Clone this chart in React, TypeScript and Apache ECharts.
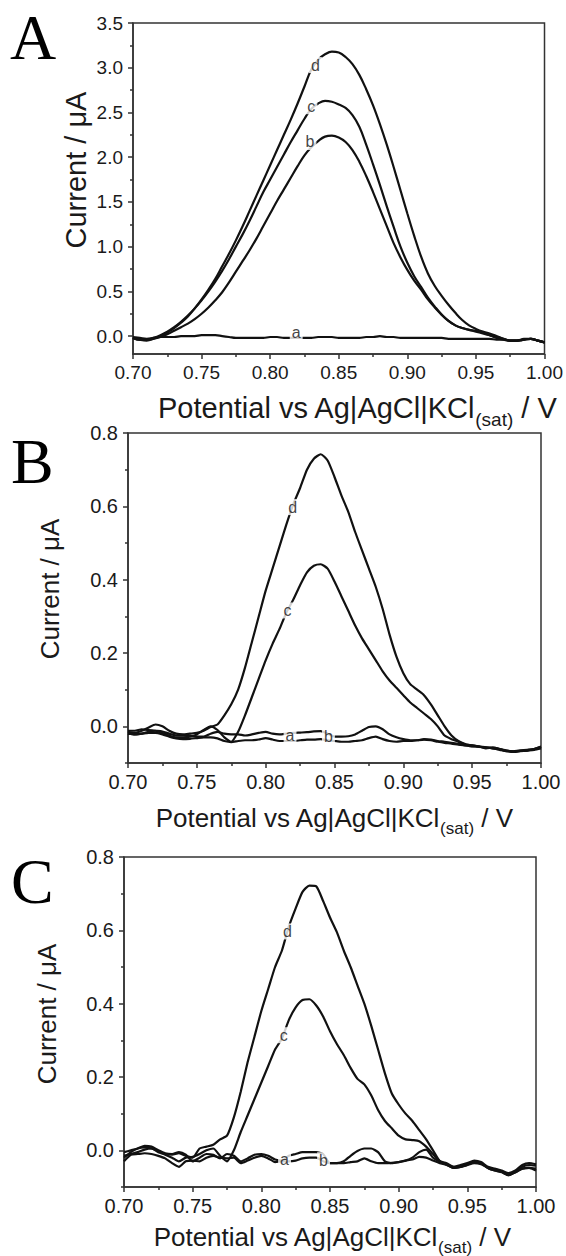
import { useEffect, useRef } from 'react';
import * as echarts from 'echarts';

// Potential grid (V vs Ag|AgCl|KCl(sat)) shared by every trace
const POTENTIAL = [
  0.700, 0.705, 0.710, 0.715, 0.720, 0.725, 0.730, 0.735, 0.740, 0.745,
  0.750, 0.755, 0.760, 0.765, 0.770, 0.775, 0.780, 0.785, 0.790, 0.795,
  0.800, 0.805, 0.810, 0.815, 0.820, 0.825, 0.830, 0.835, 0.840, 0.845,
  0.850, 0.855, 0.860, 0.865, 0.870, 0.875, 0.880, 0.885, 0.890, 0.895,
  0.900, 0.905, 0.910, 0.915, 0.920, 0.925, 0.930, 0.935, 0.940, 0.945,
  0.950, 0.955, 0.960, 0.965, 0.970, 0.975, 0.980, 0.985, 0.990, 0.995, 1.000,
];

// Panel A currents (µA)
const A_CURVE_A = [
  -0.01, -0.02, -0.03, -0.02, -0.01, -0.01, -0.01, 0.00, 0.00, 0.00,
  0.01, 0.01, 0.01, 0.00, -0.01, -0.02, -0.02, -0.02, -0.02, -0.02,
  -0.01, -0.01, -0.02, -0.02, -0.02, -0.02, -0.02, -0.01, -0.01, -0.01,
  -0.02, -0.02, -0.02, -0.02, -0.01, -0.01, 0.00, -0.01, -0.01, -0.02,
  -0.02, -0.02, -0.02, -0.02, -0.02, -0.02, -0.03, -0.03, -0.03, -0.03,
  -0.03, -0.03, -0.03, -0.04, -0.04, -0.05, -0.05, -0.04, -0.03, -0.05, -0.07,
];
const A_CURVE_B = [
  -0.02, -0.04, -0.04, -0.03, -0.01, 0.02, 0.06, 0.10, 0.14, 0.19,
  0.25, 0.32, 0.40, 0.49, 0.60, 0.72, 0.84, 0.96, 1.09, 1.23,
  1.37, 1.51, 1.64, 1.77, 1.90, 2.02, 2.11, 2.18, 2.23, 2.24,
  2.22, 2.17, 2.08, 1.95, 1.79, 1.61, 1.42, 1.23, 1.04, 0.88,
  0.74, 0.62, 0.52, 0.41, 0.32, 0.24, 0.17, 0.12, 0.09, 0.07,
  0.05, 0.03, 0.01, -0.01, -0.03, -0.05, -0.05, -0.04, -0.03, -0.05, -0.07,
];
const A_CURVE_C = [
  -0.02, -0.04, -0.04, -0.02, 0.01, 0.05, 0.10, 0.16, 0.23, 0.31,
  0.40, 0.50, 0.61, 0.73, 0.86, 1.00, 1.14, 1.29, 1.45, 1.61,
  1.75, 1.89, 2.03, 2.17, 2.30, 2.43, 2.54, 2.60, 2.63, 2.62,
  2.59, 2.55, 2.47, 2.34, 2.14, 1.92, 1.69, 1.45, 1.22, 1.00,
  0.82, 0.67, 0.55, 0.43, 0.33, 0.24, 0.17, 0.12, 0.09, 0.07,
  0.06, 0.04, 0.01, -0.02, -0.04, -0.05, -0.05, -0.04, -0.03, -0.05, -0.07,
];
const A_CURVE_D = [
  -0.02, -0.04, -0.05, -0.03, 0.00, 0.04, 0.09, 0.15, 0.22, 0.31,
  0.41, 0.52, 0.64, 0.78, 0.92, 1.07, 1.23, 1.40, 1.57, 1.74,
  1.91, 2.08, 2.25, 2.42, 2.60, 2.79, 2.98, 3.09, 3.15, 3.18,
  3.17, 3.12, 3.04, 2.92, 2.76, 2.58, 2.37, 2.14, 1.89, 1.63,
  1.37, 1.12, 0.89, 0.70, 0.56, 0.45, 0.35, 0.26, 0.18, 0.12,
  0.08, 0.05, 0.03, 0.00, -0.03, -0.05, -0.05, -0.03, -0.03, -0.05, -0.07,
];

// Panel B currents (µA)
const B_CURVE_A = [
  -0.020, -0.022, -0.020, -0.018, -0.018, -0.022, -0.028, -0.033, -0.035, -0.034,
  -0.032, -0.030, -0.030, -0.033, -0.040, -0.043, -0.040, -0.038, -0.038, -0.036,
  -0.032, -0.036, -0.040, -0.040, -0.040, -0.038, -0.036, -0.036, -0.035, -0.038,
  -0.040, -0.042, -0.042, -0.040, -0.038, -0.032, -0.028, -0.035, -0.040, -0.042,
  -0.040, -0.040, -0.038, -0.036, -0.038, -0.042, -0.045, -0.047, -0.050, -0.052,
  -0.054, -0.056, -0.058, -0.060, -0.064, -0.068, -0.070, -0.068, -0.066, -0.064, -0.060,
];
const B_CURVE_B = [
  -0.012, -0.012, -0.008, -0.010, -0.012, -0.014, -0.020, -0.025, -0.025, -0.025,
  -0.028, -0.028, -0.020, -0.015, -0.020, -0.022, -0.022, -0.025, -0.022, -0.018,
  -0.015, -0.020, -0.022, -0.020, -0.018, -0.017, -0.016, -0.014, -0.013, -0.020,
  -0.028, -0.028, -0.027, -0.022, -0.012, -0.002, 0.000, -0.008, -0.022, -0.030,
  -0.035, -0.038, -0.038, -0.035, -0.036, -0.040, -0.042, -0.045, -0.048, -0.052,
  -0.052, -0.055, -0.057, -0.060, -0.063, -0.066, -0.069, -0.067, -0.065, -0.062, -0.056,
];
const B_CURVE_C = [
  -0.020, -0.022, -0.020, -0.015, -0.012, -0.018, -0.025, -0.030, -0.030, -0.028,
  -0.022, -0.010, 0.000, -0.010, -0.030, -0.042, -0.015, 0.030, 0.080, 0.130,
  0.180, 0.225, 0.265, 0.310, 0.345, 0.385, 0.420, 0.438, 0.442, 0.430,
  0.395, 0.355, 0.315, 0.275, 0.240, 0.210, 0.180, 0.150, 0.125, 0.105,
  0.085, 0.065, 0.050, 0.035, 0.020, 0.000, -0.025, -0.035, -0.042, -0.050,
  -0.055, -0.055, -0.060, -0.058, -0.062, -0.068, -0.068, -0.066, -0.066, -0.062, -0.058,
];
const B_CURVE_D = [
  -0.015, -0.018, -0.012, -0.003, 0.005, 0.000, -0.012, -0.020, -0.022, -0.020,
  -0.018, -0.012, -0.002, 0.005, 0.030, 0.060, 0.100, 0.160, 0.230, 0.300,
  0.370, 0.430, 0.490, 0.550, 0.605, 0.650, 0.700, 0.730, 0.742, 0.725,
  0.680, 0.630, 0.585, 0.530, 0.480, 0.430, 0.380, 0.320, 0.250, 0.190,
  0.145, 0.115, 0.100, 0.085, 0.060, 0.030, 0.000, -0.025, -0.040, -0.048,
  -0.052, -0.055, -0.058, -0.058, -0.062, -0.066, -0.068, -0.066, -0.064, -0.062, -0.055,
];

// Panel C currents (µA)
const C_CURVE_A = [
  -0.030, -0.012, -0.010, -0.008, -0.010, -0.015, -0.022, -0.035, -0.045, -0.030,
  -0.028, -0.030, -0.020, -0.015, -0.020, -0.022, -0.020, -0.035, -0.028, -0.020,
  -0.015, -0.022, -0.032, -0.030, -0.030, -0.028, -0.022, -0.020, -0.020, -0.030,
  -0.035, -0.035, -0.035, -0.032, -0.030, -0.022, -0.030, -0.035, -0.035, -0.034,
  -0.032, -0.028, -0.025, -0.018, -0.020, -0.028, -0.035, -0.040, -0.048, -0.045,
  -0.038, -0.030, -0.035, -0.048, -0.055, -0.058, -0.068, -0.060, -0.050, -0.048, -0.055,
];
const C_CURVE_B = [
  -0.005, 0.000, 0.005, 0.012, 0.010, 0.000, -0.008, -0.010, -0.005, -0.012,
  -0.030, -0.020, -0.010, -0.012, -0.022, -0.010, -0.015, -0.030, -0.022, -0.012,
  -0.010, -0.015, -0.025, -0.028, -0.015, -0.010, -0.005, -0.005, -0.005, -0.010,
  -0.035, -0.035, -0.030, -0.015, -0.002, 0.005, 0.005, -0.005, -0.030, -0.035,
  -0.032, -0.028, -0.020, -0.005, 0.002, -0.020, -0.030, -0.035, -0.045, -0.040,
  -0.035, -0.028, -0.032, -0.045, -0.050, -0.055, -0.062, -0.055, -0.040, -0.035, -0.038,
];
const C_CURVE_C = [
  -0.015, -0.010, -0.005, 0.002, 0.005, -0.005, -0.012, -0.020, -0.030, -0.020,
  -0.018, -0.010, 0.000, 0.005, -0.015, -0.030, 0.000, 0.050, 0.095, 0.140,
  0.185, 0.230, 0.275, 0.305, 0.355, 0.390, 0.410, 0.412, 0.395, 0.365,
  0.325, 0.290, 0.260, 0.225, 0.195, 0.180, 0.150, 0.110, 0.080, 0.060,
  0.040, 0.030, 0.028, 0.025, 0.010, -0.010, -0.030, -0.038, -0.048, -0.045,
  -0.040, -0.030, -0.035, -0.048, -0.055, -0.060, -0.068, -0.058, -0.050, -0.048, -0.050,
];
const C_CURVE_D = [
  -0.020, -0.005, 0.005, 0.008, 0.005, -0.002, -0.010, -0.012, -0.008, -0.015,
  -0.020, 0.005, 0.010, 0.015, 0.030, 0.040, 0.090, 0.160, 0.240, 0.310,
  0.380, 0.440, 0.500, 0.545, 0.610, 0.660, 0.705, 0.722, 0.720, 0.680,
  0.635, 0.595, 0.545, 0.500, 0.450, 0.400, 0.340, 0.275, 0.210, 0.155,
  0.125, 0.100, 0.080, 0.055, 0.030, 0.000, -0.030, -0.040, -0.045, -0.045,
  -0.040, -0.035, -0.038, -0.048, -0.052, -0.058, -0.065, -0.060, -0.045, -0.040, -0.042,
];

// Curve tags: [tag, potential, current]
const A_TAGS: [string, number, number][] = [['d', 0.833, 3.03], ['c', 0.830, 2.57], ['b', 0.829, 2.17], ['a', 0.819, 0.04]];
const B_TAGS: [string, number, number][] = [['d', 0.8197, 0.598], ['c', 0.8158, 0.316], ['a', 0.8177, -0.025], ['b', 0.8456, -0.028]];
const C_TAGS: [string, number, number][] = [['d', 0.819, 0.597], ['c', 0.8163, 0.314], ['a', 0.8169, -0.025], ['b', 0.8453, -0.027]];

// Axis ticks
const X_MIN = 0.7;
const X_MAX = 1.0;
const X_STEP = 0.05;
const A_Y_MAJOR = [0, 0.5, 1.0, 1.5, 2.0, 2.5, 3.0, 3.5];
const A_Y_MINOR = [0.25, 0.75, 1.25, 1.75, 2.25, 2.75, 3.25];
const BC_Y_MAJOR = [0, 0.2, 0.4, 0.6, 0.8];
const BC_Y_MINOR = [-0.1, 0.1, 0.3, 0.5, 0.7];

const SANS = "'Liberation Sans', Arial, sans-serif";
const SERIF = "'Liberation Serif', 'Times New Roman', serif";
const INK = '#1a1a1a';
const AXIS = '#333';

const PANELS = [
  { letter: 'A', grid: { left: 133, top: 23, width: 412, height: 331 }, yMin: -0.2, yMax: 3.5, major: A_Y_MAJOR, minor: A_Y_MINOR,
    curves: [A_CURVE_A, A_CURVE_B, A_CURVE_C, A_CURVE_D], tags: A_TAGS, smooth: 0.4,
    tickFont: 19, titleFont: 29, subFont: 19, subPad: 22,
    letterPos: [10, 37], yTitlePos: [76, 170], xTitlePos: [357, 408] },
  { letter: 'B', grid: { left: 128, top: 433, width: 413, height: 330 }, yMin: -0.1, yMax: 0.8, major: BC_Y_MAJOR, minor: BC_Y_MINOR,
    curves: [B_CURVE_A, B_CURVE_B, B_CURVE_C, B_CURVE_D], tags: B_TAGS, smooth: 0.2,
    tickFont: 20, titleFont: 26, subFont: 17, subPad: 20,
    letterPos: [11, 461], yTitlePos: [50, 589], xTitlePos: [334, 818] },
  { letter: 'C', grid: { left: 124, top: 857, width: 412, height: 330 }, yMin: -0.1, yMax: 0.8, major: BC_Y_MAJOR, minor: BC_Y_MINOR,
    curves: [C_CURVE_A, C_CURVE_B, C_CURVE_C, C_CURVE_D], tags: C_TAGS, smooth: 0.2,
    tickFont: 20, titleFont: 26, subFont: 17, subPad: 20,
    letterPos: [11, 881], yTitlePos: [47, 1014], xTitlePos: [332, 1237] },
];

function buildOption() {
  const grid: any[] = [];
  const xAxis: any[] = [];
  const yAxis: any[] = [];
  const series: any[] = [];
  const graphic: any[] = [];

  PANELS.forEach((p, k) => {
    grid.push({ ...p.grid, show: true, borderColor: AXIS, borderWidth: 1.5, backgroundColor: 'transparent' });
    xAxis.push({
      type: 'value', gridIndex: k, min: X_MIN, max: X_MAX, interval: X_STEP,
      axisLine: { show: true, onZero: false, lineStyle: { color: AXIS, width: 1.5 } },
      axisTick: { show: true, inside: false, length: 5, lineStyle: { color: AXIS, width: 1.5 } },
      minorTick: { show: true, splitNumber: 2, length: 3, lineStyle: { color: AXIS, width: 1.5 } },
      axisLabel: { fontSize: p.tickFont, fontFamily: SANS, color: INK, margin: 9, formatter: (v: number) => v.toFixed(2) },
      splitLine: { show: false }, minorSplitLine: { show: false },
    });
    yAxis.push({
      type: 'value', gridIndex: k, position: 'left', min: p.yMin, max: p.yMax,
      axisLine: { show: true, onZero: false, lineStyle: { color: AXIS, width: 1.5 } },
      axisTick: { show: true, length: 5, customValues: p.major, lineStyle: { color: AXIS, width: 1.5 } },
      axisLabel: { customValues: p.major, fontSize: p.tickFont, fontFamily: SANS, color: INK, margin: 10, formatter: (v: number) => v.toFixed(1) },
      splitLine: { show: false },
    });
    yAxis.push({
      type: 'value', gridIndex: k, position: 'left', min: p.yMin, max: p.yMax,
      axisLine: { show: false, onZero: false },
      axisTick: { show: true, length: 3, customValues: p.minor, lineStyle: { color: AXIS, width: 1.5 } },
      axisLabel: { show: false },
      splitLine: { show: false },
    });
    p.curves.forEach((ys) => {
      series.push({
        type: 'line', xAxisIndex: k, yAxisIndex: 2 * k, showSymbol: false, smooth: p.smooth,
        data: POTENTIAL.map((x, i) => [x, ys[i]]),
        lineStyle: { color: '#111', width: 2.2 }, z: 2, silent: true,
      });
    });
    series.push({
      type: 'scatter', xAxisIndex: k, yAxisIndex: 2 * k, symbolSize: 1, itemStyle: { color: 'rgba(0,0,0,0)' },
      data: p.tags.map((t) => [t[1], t[2], t[0]]),
      label: { show: true, position: 'inside', formatter: (q: any) => q.value[2], fontSize: 16, fontFamily: SANS, color: '#111', backgroundColor: '#fff', padding: [0, 2] },
      z: 5, silent: true,
    });
    graphic.push({
      type: 'text', x: p.letterPos[0], y: p.letterPos[1],
      style: { text: p.letter, fontSize: 64, fontFamily: SERIF, fill: '#000', align: 'left', verticalAlign: 'middle' },
    });
    graphic.push({
      type: 'text', x: p.yTitlePos[0], y: p.yTitlePos[1], rotation: Math.PI / 2,
      style: { text: 'Current / μA', fontSize: p.titleFont, fontFamily: SANS, fill: INK, align: 'center', verticalAlign: 'middle' },
    });
    graphic.push({
      type: 'text', x: p.xTitlePos[0], y: p.xTitlePos[1],
      style: {
        text: 'Potential vs Ag|AgCl|KCl{s|(sat)} / V', fontSize: p.titleFont, fontFamily: SANS, fill: INK,
        align: 'center', verticalAlign: 'middle',
        rich: { s: { fontSize: p.subFont, fontFamily: SANS, fill: INK, padding: [p.subPad, 0, 0, 0] } },
      },
    });
  });

  return { animation: false, backgroundColor: '#fff', grid, xAxis, yAxis, series, graphic };
}

export default function App() {
  const ref = useRef<HTMLDivElement>(null);
  useEffect(() => {
    document.body.style.margin = '0';
    const chart = echarts.init(ref.current!, undefined, { renderer: 'svg' });
    chart.setOption(buildOption() as any);
    return () => chart.dispose();
  }, []);
  return <div ref={ref} style={{ width: 566, height: 1256, position: 'absolute', left: 0, top: 0 }} />;
}
